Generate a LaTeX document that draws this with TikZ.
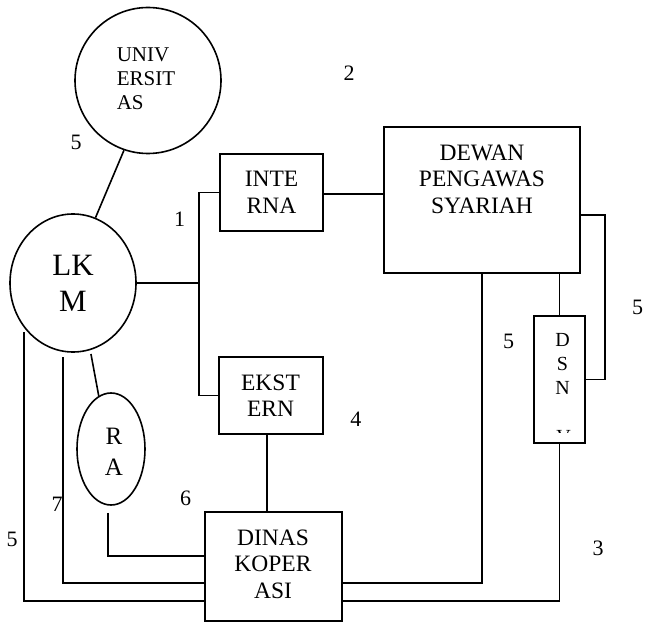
\documentclass[tikz,border=0pt]{standalone}
\usepackage{fontspec}
\setmainfont{Liberation Serif}
\usetikzlibrary{shapes.geometric}
\begin{document}
\begin{tikzpicture}[x=1pt,y=-1pt,line width=1.6pt,
  box/.style={draw,rectangle,inner sep=0pt},
  circ/.style={draw,circle,inner sep=0pt},
  ell/.style={draw,ellipse,inner sep=0pt},
  txt/.style={inner sep=0pt,align=center,font=\fontsize{23.5}{26.6}\selectfont},
  num/.style={inner sep=0pt,font=\fontsize{22}{26}\selectfont}]
\useasboundingbox (0,0) rectangle (645,623);
% shapes
\node[circ,minimum size=146pt] (univ) at (148,80.5) {};
\node[ell,minimum width=126pt,minimum height=138pt] (lkm) at (73,283) {};
\node[ell,minimum width=68pt,minimum height=112pt] (ra) at (111,449) {};
\node[box,minimum width=103pt,minimum height=77pt] (int) at (271.5,192.5) {};
\node[box,minimum width=196pt,minimum height=146pt] (dps) at (482,200) {};
\node[box,minimum width=104pt,minimum height=77pt] (ext) at (271,395.5) {};
\node[box,minimum width=137pt,minimum height=109pt] (din) at (273.5,566.5) {};
\node[box,minimum width=51pt,minimum height=127pt] (dsn) at (559.5,379.5) {};
% texts
\node[inner sep=0pt,align=left,font=\fontsize{21}{24}\selectfont] (tuniv) at (146,79) {UNIV\\ERSIT\\AS};
\node[inner sep=0pt,align=center,font=\fontsize{31}{36}\selectfont] (tlkm) at (73,283) {LK\\M};
\node[inner sep=0pt,align=center,font=\fontsize{25}{30.7}\selectfont] (tra) at (114,452) {R\\A};
\node[txt] (tint) at (271.5,192.4) {INTE\\RNA};
\node[txt] (tdps) at (482,179) {DEWAN\\PENGAWAS\\SYARIAH};
\node[txt] (text) at (270.5,395.7) {EKST\\ERN};
\node[txt] (tdin) at (273,564.2) {DINAS\\KOPER\\ASI};
\node[inner sep=0pt,align=center,font=\fontsize{20}{24}\selectfont] (tdsn) at (562.5,364.4) {D\\S\\N};
\begin{scope}
  \clip (548,429) rectangle (580,432.8);
  \node[inner sep=0pt,anchor=north,font=\fontsize{20}{24}\selectfont] (tdsnv) at (563.5,429.3) {V};
\end{scope}
% numbers
\node[num] (n5a) at (76,142.5) {5};
\node[num] (n2) at (349,73) {2};
\node[num] (n1) at (179.7,219) {1};
\node[num] (n5b) at (637.5,307) {5};
\node[num] (n5c) at (508.7,341.3) {5};
\node[num] (n4) at (355.8,419) {4};
\node[num] (n3) at (598,548.7) {3};
\node[num] (n6) at (185.5,498) {6};
\node[num] (n7) at (57,504) {7};
\node[num] (n5d) at (12,539) {5};
% helper coordinates
\coordinate (j1) at (199,283);
\coordinate (dr) at (605,215);
\coordinate (yA) at (0,556);
\coordinate (yB) at (0,583);
\coordinate (yC) at (0,601);
% connectors
\draw (univ.251) -- (lkm.71);
\draw (lkm.east) -- (j1);
\draw (int.west) -| (j1) |- (ext.west);
\draw ([yshift=-1.5pt]int.east) -- ([yshift=-1.5pt]int.east -| dps.west);
\draw ([yshift=-15pt]dps.east) -| (dr) |- (dsn.east);
\draw (dsn.north) -- (dsn.north |- dps.south);
\draw (dps.south) |- (din.east |- yB);
\draw (dsn.south) |- (din.east |- yC);
\draw ([xshift=-4pt]ext.south) -- ([xshift=-4pt]ext.south |- din.north);
\draw ([yshift=-4pt]lkm.285) -- (ra.103);
\draw ([shift={(-3pt,-7pt)}]ra.south) |- (din.west |- yA);
\draw ([shift={(-10pt,-74pt)}]lkm.center) |- (din.west |- yB);
\draw ([shift={(-49pt,-49pt)}]lkm.center) |- (din.west |- yC);
\end{tikzpicture}
\end{document}
